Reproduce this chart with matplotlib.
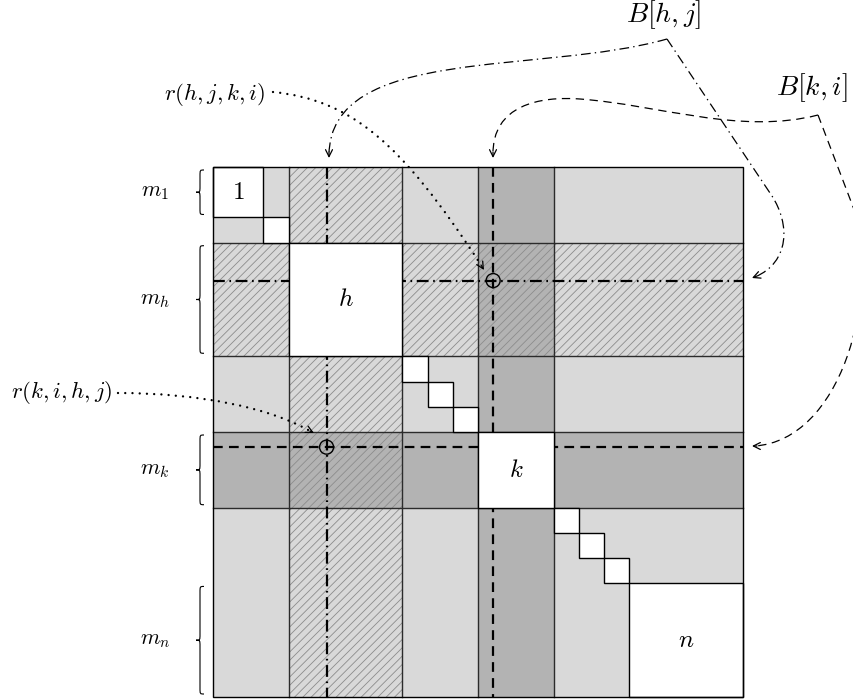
import numpy as np
import matplotlib.pyplot as plt
from matplotlib.patches import Rectangle, PathPatch, Circle
from matplotlib.path import Path

plt.rcParams['mathtext.fontset'] = 'cm'
plt.rcParams['lines.scale_dashes'] = False
plt.rcParams['hatch.linewidth'] = 0.6

# diagonal blocks of the matrix (sizes in grid units)
block_labels = ['1', '', 'h', '', '', '', 'k', '', '', '', 'n']
block_sizes = [2, 1, 4.5, 1, 1, 1, 3, 1, 1, 1, 4.5]
brace_labels = ['m_1', 'm_h', 'm_k', 'm_n']
brace_blocks = ['1', 'h', 'k', 'n']
hatched_block = 'h'
dark_block = 'k'
j_pos = 4.5    # column j inside block h
i_pos = 11.1   # column i inside block k
callout_labels = ['B[h,j]', 'B[k,i]', 'r(h,j,k,i)', 'r(k,i,h,j)']

edges = np.concatenate([[0], np.cumsum(block_sizes)])
N = edges[-1]
X0, Y0, SIDE = 213, 167, 530
unit = SIDE / N


def px(v):
    return X0 + v * unit


def py(v):
    return Y0 + v * unit


def span(label):
    b = block_labels.index(label)
    return edges[b], edges[b + 1]


light = '#d9d9d9'
dark = '#b3b3b3'
edge = '#2b2b2b'

fig = plt.figure(figsize=(8.54, 7), dpi=100)
ax = fig.add_axes([0, 0, 1, 1])
ax.set_xlim(0, 854)
ax.set_ylim(700, 0)
ax.axis('off')

# background of the whole matrix
ax.add_patch(Rectangle((px(0), py(0)), SIDE, SIDE, fc=light, ec='none', zorder=1))

# dark row / column of block k
k0, k1 = span(dark_block)
ax.add_patch(Rectangle((px(0), py(k0)), SIDE, (k1 - k0) * unit, fc=dark, ec='none', zorder=1.2))
ax.add_patch(Rectangle((px(k0), py(0)), (k1 - k0) * unit, SIDE, fc=dark, ec='none', zorder=1.2))

# hatched row / column of block h
h0, h1 = span(hatched_block)
ax.add_patch(Rectangle((px(0), py(h0)), SIDE, (h1 - h0) * unit, fc='none', ec='#8c8c8c',
                       lw=0, hatch='////', zorder=1.4))
ax.add_patch(Rectangle((px(h0), py(0)), (h1 - h0) * unit, SIDE, fc='none', ec='#8c8c8c',
                       lw=0, hatch='////', zorder=1.4))

# band borders
for a, b in [(h0, h1), (k0, k1)]:
    for v in (a, b):
        ax.plot([px(0), px(N)], [py(v), py(v)], color=edge, lw=1.0, zorder=2)
        ax.plot([px(v), px(v)], [py(0), py(N)], color=edge, lw=1.0, zorder=2)

# row h / column j (dash-dot) and row k / column i (dashed)
dd = (0, (8.5, 3.3, 1.2, 3.3))
ds = (0, (7, 4.5))
ax.plot([px(0), px(N)], [py(j_pos)] * 2, color='black', lw=1.6, ls=dd, zorder=3)
ax.plot([px(j_pos)] * 2, [py(0), py(N)], color='black', lw=1.6, ls=dd, zorder=3)
ax.plot([px(0), px(N)], [py(i_pos)] * 2, color='black', lw=1.6, ls=ds, zorder=3)
ax.plot([px(i_pos)] * 2, [py(0), py(N)], color='black', lw=1.6, ls=ds, zorder=3)

# white diagonal blocks
for lab, a, b in zip(block_labels, edges[:-1], edges[1:]):
    ax.add_patch(Rectangle((px(a), py(a)), (b - a) * unit, (b - a) * unit,
                           fc='white', ec='black', lw=1.0, zorder=4))
    if lab:
        ax.text(px((a + b) / 2), py((a + b) / 2), '$' + lab + '$', fontsize=18,
                ha='center', va='center', zorder=5)

ax.add_patch(Rectangle((px(0), py(0)), SIDE, SIDE, fc='none', ec='black', lw=1.0, zorder=6))

# crossing points
for cx, cy in [(i_pos, j_pos), (j_pos, i_pos)]:
    ax.add_patch(Circle((px(cx), py(cy)), 7, fc='none', ec='black', lw=1.0, zorder=6))


# braces on the left
def brace(x, y0, y1, w=8):
    ym = (y0 + y1) / 2
    xm = x - w / 2
    xt = x - w
    r = 6
    verts = [(x, y0), (xm, y0), (xm, y0), (xm, y0 + r),
             (xm, ym - r), (xm, ym), (xm, ym), (xt, ym),
             (xm, ym), (xm, ym), (xm, ym + r),
             (xm, y1 - r), (xm, y1), (xm, y1), (x, y1)]
    codes = [Path.MOVETO, Path.CURVE4, Path.CURVE4, Path.CURVE4,
             Path.LINETO, Path.CURVE4, Path.CURVE4, Path.CURVE4,
             Path.CURVE4, Path.CURVE4, Path.CURVE4,
             Path.LINETO, Path.CURVE4, Path.CURVE4, Path.CURVE4]
    ax.add_patch(PathPatch(Path(verts, codes), fc='none', ec='black', lw=0.8))


for lab, blk in zip(brace_labels, brace_blocks):
    a, b = span(blk)
    brace(204, py(a) + 3, py(b) - 3)
    ax.text(155, py((a + b) / 2), '$' + lab + '$', fontsize=16, ha='center', va='center')


# callout curves
def curve(verts, codes, ls, lw=0.9, cap='butt'):
    ax.add_patch(PathPatch(Path(verts, codes), fc='none', ec='black', lw=lw, ls=ls,
                           capstyle=cap, zorder=7))


def head(tip, back):
    ax.annotate('', xy=tip, xytext=back,
                arrowprops=dict(arrowstyle='->, head_length=0.5, head_width=0.25',
                                lw=0.9, color='black', shrinkA=0, shrinkB=0), zorder=8)


thin_dd = (0, (7, 3, 1, 3))
thin_ds = (0, (6, 4))
dots = (0, (0.01, 5.2))
M, L, C = Path.MOVETO, Path.LINETO, Path.CURVE4

ax.text(664, 15, '$' + callout_labels[0] + '$', fontsize=20, ha='center', va='center')
ax.text(812, 88, '$' + callout_labels[1] + '$', fontsize=20, ha='center', va='center')
ax.text(265, 94, '$' + callout_labels[2] + '$', fontsize=16.5, ha='right', va='center')
ax.text(112, 393, '$' + callout_labels[3] + '$', fontsize=16.5, ha='right', va='center')

# B[h,j]
curve([(667, 39), (540, 75), (330, 45), (329, 155)], [M, C, C, C], thin_dd)
head((329, 158), (329, 152))
curve([(667, 39), (772, 196), (790, 224), (790, 262), (755, 277)], [M, L, C, C, C], thin_dd)
head((752, 278), (757, 276))

# B[k,i]
curve([(818, 115), (740, 135), (660, 105), (580, 99), (540, 96), (492, 105), (493, 155)],
      [M, C, C, C, C, C, C], thin_ds)
head((493, 158), (493, 152))
curve([(818, 115), (855, 212), (880, 300), (840, 440), (755, 446)], [M, L, C, C, C], thin_ds)
head((752, 446), (757, 446))

# r(h,j,k,i) and r(k,i,h,j)
curve([(273, 92), (350, 100), (400, 140), (481, 265)], [M, C, C, C], dots, lw=1.7, cap='round')
head((484, 270), (481, 265))
curve([(118, 393), (200, 393), (270, 408), (310, 431)], [M, C, C, C], dots, lw=1.7, cap='round')
head((314, 433), (310, 431))

fig.savefig('out.png', dpi=100)
